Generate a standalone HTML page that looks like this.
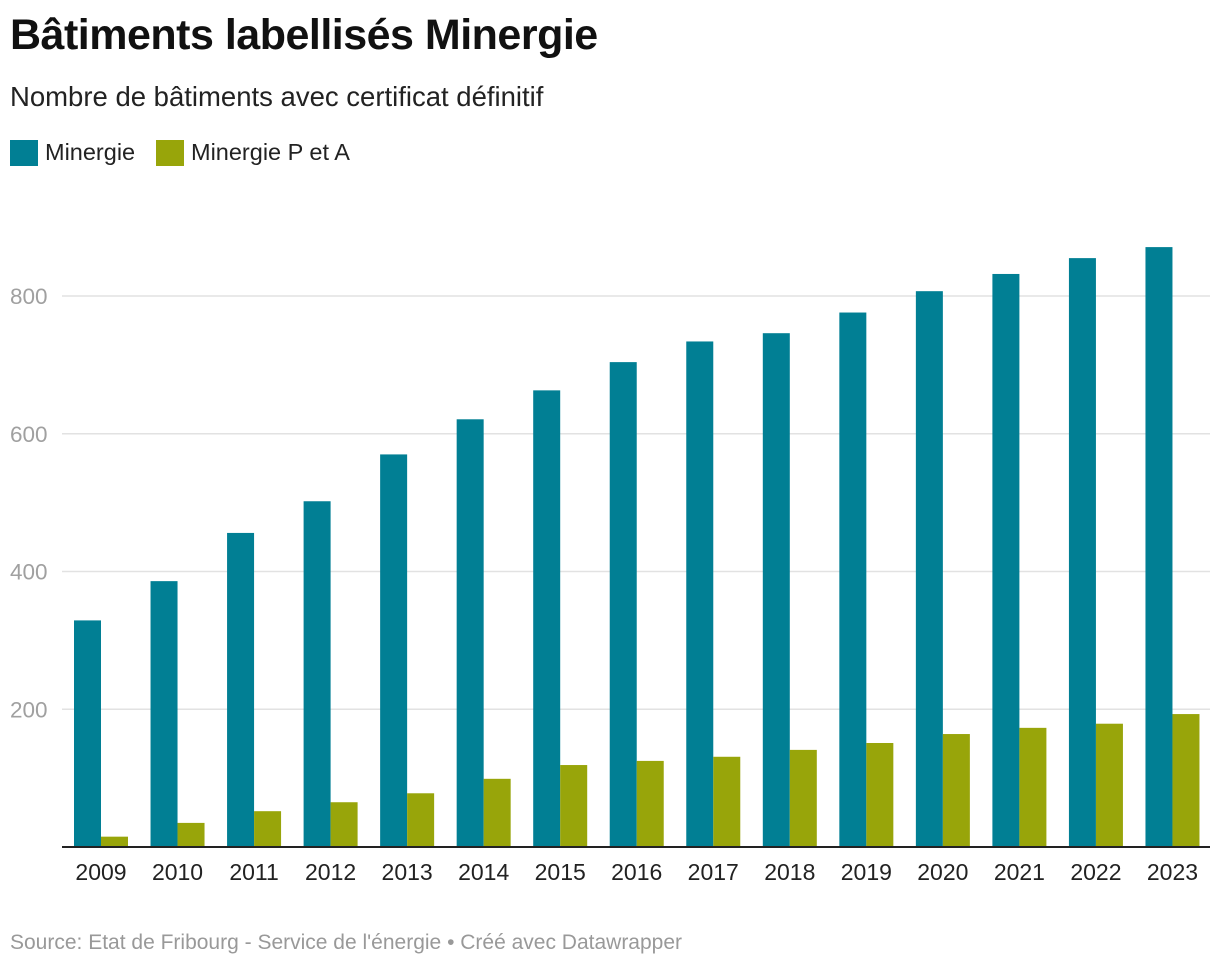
<!DOCTYPE html>
<html><head><meta charset="utf-8"><style>
body{margin:0;background:#fff;font-family:"Liberation Sans",sans-serif;}
#wrap{position:relative;width:1220px;height:968px;overflow:hidden}
h1{position:absolute;left:10px;top:11px;margin:0;font-size:43px;font-weight:bold;color:#111;letter-spacing:-0.5px}
.sub{position:absolute;left:10px;top:81px;font-size:27.5px;color:#222}
.leg{position:absolute;top:139px;font-size:23.5px;color:#222;display:flex;align-items:center}
.sw{display:inline-block;width:28px;height:26px;margin-right:7px}
.src{position:absolute;left:10px;top:931px;font-size:21px;color:#999}
</style></head><body>
<div id="wrap">
<h1>Bâtiments labellisés Minergie</h1>
<div class="sub">Nombre de bâtiments avec certificat définitif</div>
<div class="leg" style="left:10px"><span class="sw" style="background:#017f94"></span>Minergie</div>
<div class="leg" style="left:156px"><span class="sw" style="background:#98a50a"></span>Minergie P et A</div>
<svg id="plot" width="1220" height="968" style="position:absolute;left:0;top:0"></svg>
<div class="src">Source: Etat de Fribourg - Service de l'énergie • Créé avec Datawrapper</div>
</div>
<script>
const years=["2009","2010","2011","2012","2013","2014","2015","2016","2017","2018","2019","2020","2021","2022","2023"];
const minergie=[329,386,456,502,570,621,663,704,734,746,776,807,832,855,871];
const minergiePA=[15,35,52,65,78,99,119,125,131,141,151,164,173,179,193];
const yTicks=[200,400,600,800];
const NS="http://www.w3.org/2000/svg";
const svg=document.getElementById('plot');
const x0=62,x1=1210,yBase=847,pxPer=137.75/200;
const band=(x1-x0)/years.length;
const y=v=>yBase-v*pxPer;
const xg=i=>x0+i*band;
function mk(t,a){const e=document.createElementNS(NS,t);for(const k in a)e.setAttribute(k,a[k]);svg.appendChild(e);return e;}
yTicks.forEach(t=>{
 const l=mk('line',{x1:x0,x2:x1,y1:y(t),y2:y(t),stroke:'#e2e2e2','stroke-width':1.5});
 
 
 const tx=mk('text',{x:10,y:y(t)+8,'font-size':22.5,fill:'#a0a0a0','font-family':'Liberation Sans, sans-serif'});
 tx.textContent=t;
 
 
});
years.forEach((yr,i)=>{
 const b1=mk('rect',{x:xg(i)+12,y:y(minergie[i]),width:27,height:minergie[i]*pxPer,fill:'#017f94'});
 
 
 const b2=mk('rect',{x:xg(i)+39,y:y(minergiePA[i]),width:27,height:minergiePA[i]*pxPer,fill:'#98a50a'});
 
 
 const t=mk('text',{x:xg(i)+39,y:880,'font-size':23,fill:'#222','text-anchor':'middle','font-family':'Liberation Sans, sans-serif'});
 t.textContent=yr;
 
 
});
const ax=mk('line',{x1:x0,x2:x1,y1:yBase,y2:yBase,stroke:'#222','stroke-width':2});


</script>
</body></html>
